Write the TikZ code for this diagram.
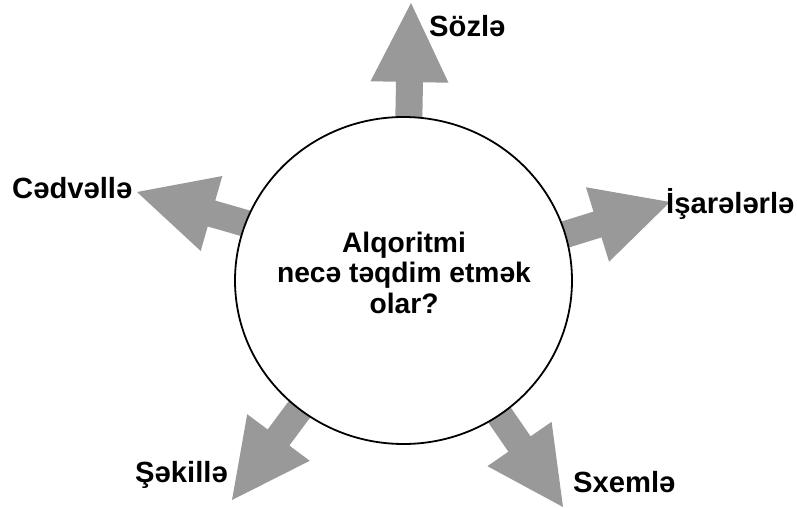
\documentclass[tikz,border=0pt]{standalone}
\usepackage{fontspec}
\setmainfont{Liberation Sans}
\usetikzlibrary{calc}
\definecolor{arrowgray}{RGB}{153,153,153}
\tikzset{
  lbl/.style={font=\bfseries\fontsize{29.2}{32}\selectfont, inner sep=0pt},
  centertext/.style={font=\bfseries\fontsize{28.2}{30.5}\selectfont, align=center, inner sep=0pt},
}
% block arrow: #1 head-base centre, #2 tip
\newcommand{\blockarrow}[2]{%
  \fill[arrowgray]
    ($($(#1)!-60pt!(#2)$)!13.5pt!90:(#2)$) --
    ($(#1)!13.5pt!90:(#2)$) --
    ($(#1)!39pt!90:(#2)$) --
    (#2) --
    ($(#1)!39pt!-90:(#2)$) --
    ($(#1)!13.5pt!-90:(#2)$) --
    ($($(#1)!-60pt!(#2)$)!13.5pt!-90:(#2)$) -- cycle;%
}
\begin{document}
\begin{tikzpicture}[x=1pt,y=-1pt]
\useasboundingbox (0,0) rectangle (797,508);
% arrow geometry
\coordinate (upH) at (409.5,82);   \coordinate (upT) at (411,3);
\coordinate (rtH) at (597.5,224.5); \coordinate (rtT) at (670,202);
\coordinate (ltH) at (211.5,213.5); \coordinate (ltT) at (137,192);
\coordinate (llH) at (278.5,437.5); \coordinate (llT) at (232,500);
\coordinate (lrH) at (519.5,444);   \coordinate (lrT) at (563,507);
\blockarrow{upH}{upT}
\blockarrow{rtH}{rtT}
\blockarrow{ltH}{ltT}
\blockarrow{llH}{llT}
\blockarrow{lrH}{lrT}
% hub
\draw[line width=1.8pt, fill=white] (403.5,280.5) ellipse [x radius=168.5, y radius=163.5];
\node[centertext] (hub) at (404,272.5) {Alqoritmi\\necə təqdim etmək\\olar?};
% labels
\node[lbl, anchor=base west] (sozle) at (429,37) {Sözlə};
\node[lbl, anchor=base west] (isare) at (666,213) {İşarələrlə};
\node[lbl, anchor=base west] (cedv) at (12,198) {Cədvəllə};
\node[lbl, anchor=base west] (sekil) at (135,482) {Şəkillə};
\node[lbl, anchor=base west] (sxem) at (573,492) {Sxemlə};
\end{tikzpicture}
\end{document}
